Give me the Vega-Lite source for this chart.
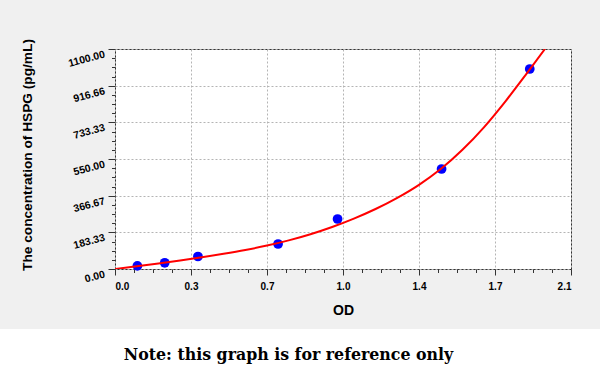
{
  "$schema": "https://vega.github.io/schema/vega-lite/v6.json",
  "background": "#f0f0f0",
  "padding": {"left": 0, "top": 39, "right": 0, "bottom": 0},
  "spacing": 11,
  "config": {"view": {"stroke": null}},
  "datasets": {
    "points": [
      {"od": 0.103, "conc": 15.6},
      {"od": 0.229, "conc": 31.2},
      {"od": 0.382, "conc": 62.5},
      {"od": 0.751, "conc": 125},
      {"od": 1.025, "conc": 250},
      {"od": 1.504, "conc": 500},
      {"od": 1.91, "conc": 1000}
    ],
    "curve": [
      {"od": 0, "conc": 0},
      {"od": 0.1, "conc": 13.4},
      {"od": 0.2, "conc": 27.5},
      {"od": 0.3, "conc": 42.5},
      {"od": 0.4, "conc": 58.5},
      {"od": 0.5, "conc": 75.9},
      {"od": 0.6, "conc": 95},
      {"od": 0.7, "conc": 117},
      {"od": 0.8, "conc": 143},
      {"od": 0.9, "conc": 173.8},
      {"od": 1.0, "conc": 210},
      {"od": 1.1, "conc": 252},
      {"od": 1.2, "conc": 300},
      {"od": 1.3, "conc": 355.8},
      {"od": 1.4, "conc": 421},
      {"od": 1.5, "conc": 499.8},
      {"od": 1.6, "conc": 596},
      {"od": 1.7, "conc": 709.8},
      {"od": 1.8, "conc": 841},
      {"od": 1.9, "conc": 983.5},
      {"od": 1.98, "conc": 1100}
    ],
    "ytitle": [{"t": "The concentration of HSPG (pg/mL)"}],
    "note": [{"note": "Note: this graph is for reference only"}]
  },
  "vconcat": [
    {
      "spacing": 11,
      "hconcat": [
        {
          "width": 55,
          "height": 220,
          "data": {"name": "ytitle"},
          "mark": {"type": "text", "angle": 270, "font": "Liberation Sans", "fontSize": 13.7, "fontWeight": "bold", "color": "#000000", "dx": 4},
          "encoding": {"text": {"field": "t", "type": "nominal"}}
        },
        {
          "width": 456,
          "height": 220,
          "view": {"fill": "white", "stroke": "#333333", "strokeWidth": 1},
          "resolve": {"axis": {"x": "independent", "y": "independent"}},
          "layer": [
            {
              "data": {"name": "points"},
              "mark": {"type": "point", "filled": true, "color": "#0000ff", "opacity": 1, "size": 95},
              "encoding": {
                "x": {
                  "field": "od", "type": "quantitative",
                  "scale": {"domain": [0, 2.1], "nice": false, "zero": false},
                  "axis": {
                    "orient": "bottom",
                    "values": [0, 0.35, 0.7, 1.05, 1.4, 1.75, 2.1],
                    "labelExpr": "['0.0','0.3','0.7','1.0','1.4','1.7','2.1'][round(datum.value/0.35)]",
                    "grid": true, "gridDash": [2, 2], "gridColor": "#b4b4b4", "gridWidth": 1,
                    "domain": false,
                    "tickSize": 6, "tickColor": "#333333",
                    "labelFont": "Liberation Sans", "labelFontSize": 10, "labelFontWeight": "bold", "labelColor": "#000000",
                    "labelPadding": 6,
                    "title": "OD", "titleFont": "Liberation Sans", "titleFontSize": 14, "titleFontWeight": "bold", "titleColor": "#000000",
                    "titlePadding": 12
                  }
                },
                "y": {
                  "field": "conc", "type": "quantitative",
                  "scale": {"domain": [0, 1100], "nice": false},
                  "axis": {
                    "orient": "left",
                    "values": [0, 183.33, 366.67, 550, 733.33, 916.66, 1100],
                    "format": ".2f",
                    "grid": true, "gridDash": [2, 2], "gridColor": "#b4b4b4", "gridWidth": 1,
                    "domain": false,
                    "tickSize": 7, "tickColor": "#333333",
                    "labelFont": "Liberation Sans", "labelFontSize": 10.5, "labelFontWeight": "bold", "labelColor": "#000000",
                    "labelAngle": -15, "labelAlign": "right", "labelBaseline": "top",
                    "labelPadding": 5,
                    "title": null
                  }
                }
              }
            },
            {
              "data": {"name": "curve"},
              "mark": {"type": "line", "color": "#ff0000", "strokeWidth": 2, "interpolate": "monotone", "clip": true},
              "encoding": {
                "x": {
                  "field": "od", "type": "quantitative",
                  "axis": {
                    "orient": "bottom",
                    "values": [0.0875, 0.175, 0.2625, 0.4375, 0.525, 0.6125, 0.7875, 0.875, 0.9625, 1.1375, 1.225, 1.3125, 1.4875, 1.575, 1.6625, 1.8375, 1.925, 2.0125],
                    "labels": false, "grid": false, "domain": false,
                    "tickSize": 3.5, "tickColor": "#333333", "title": null
                  }
                },
                "y": {
                  "field": "conc", "type": "quantitative",
                  "axis": {
                    "orient": "left",
                    "values": [45.83, 91.67, 137.5, 229.17, 275, 320.83, 412.5, 458.33, 504.17, 595.83, 641.67, 687.5, 779.17, 825, 870.83, 962.5, 1008.33, 1054.17],
                    "labels": false, "grid": false, "domain": false,
                    "tickSize": 3.5, "tickColor": "#333333", "title": null
                  }
                }
              }
            }
          ]
        }
      ]
    },
    {
      "width": 600,
      "height": 51,
      "view": {"fill": "white", "stroke": null},
      "data": {"name": "note"},
      "mark": {"type": "text", "font": "DejaVu Serif", "fontSize": 15.8, "fontWeight": "bold", "color": "#000000", "dx": -11.5},
      "encoding": {"text": {"field": "note", "type": "nominal"}}
    }
  ]
}
